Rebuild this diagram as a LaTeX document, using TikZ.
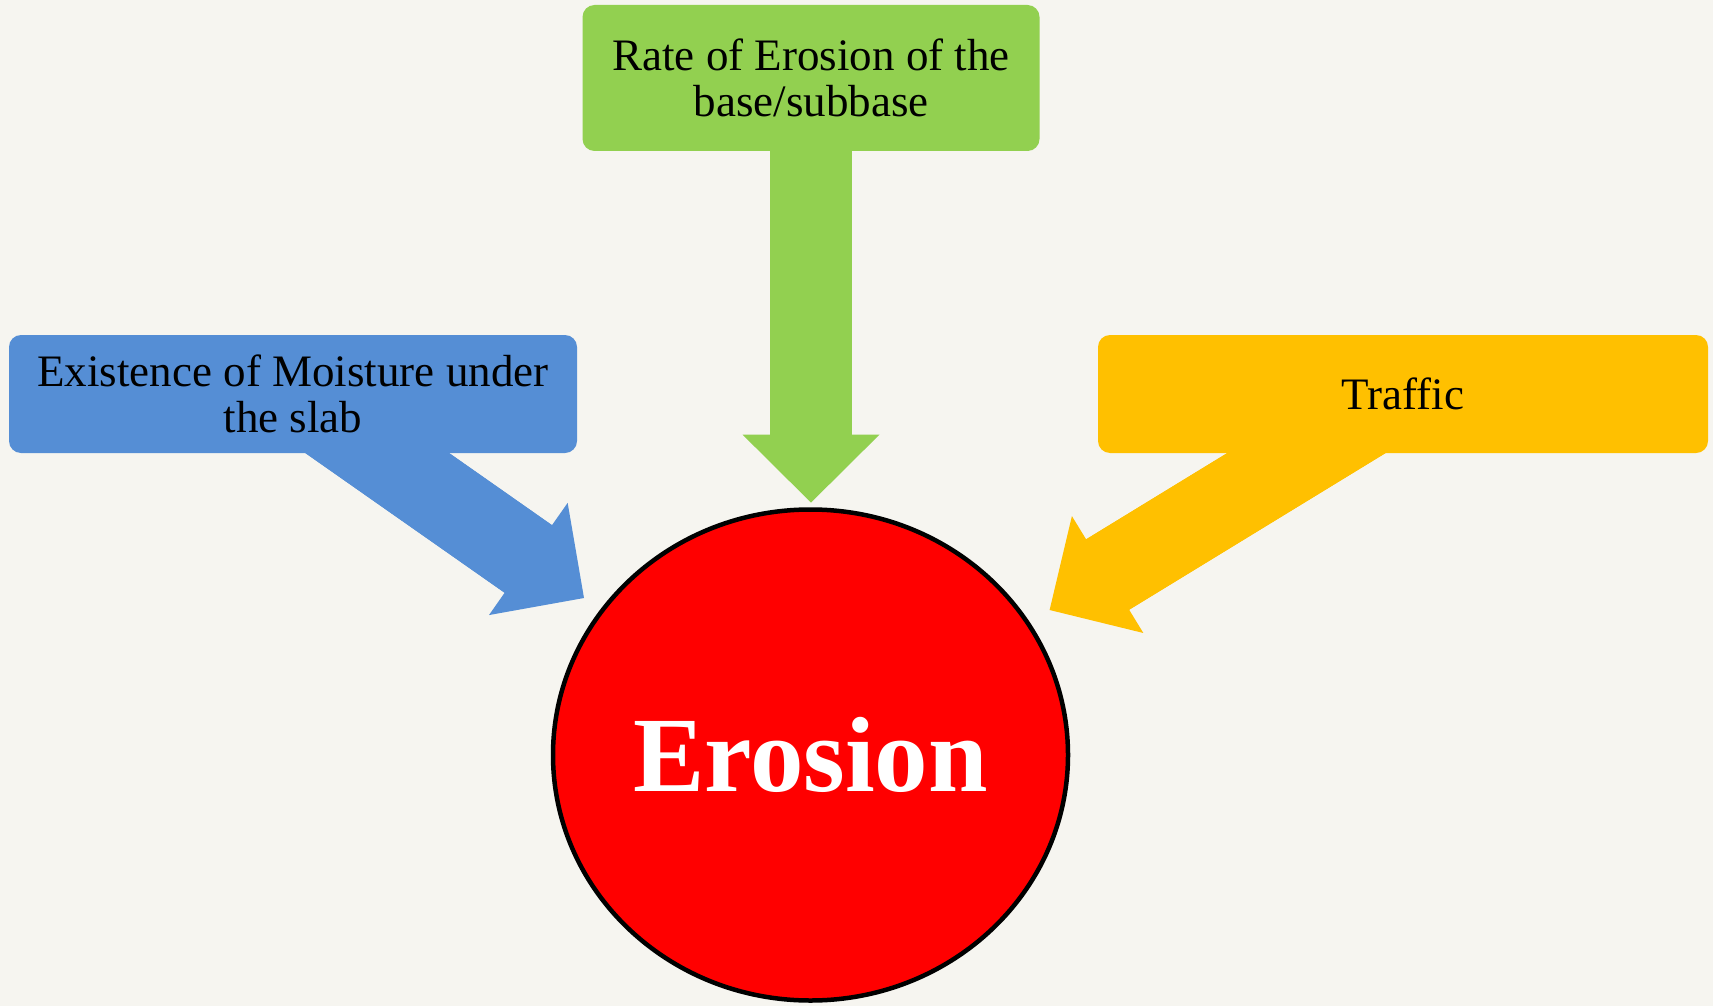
\documentclass[tikz,border=0pt]{standalone}
\usepackage{fontspec}
\setmainfont{Liberation Serif}
\usetikzlibrary{arrows.meta,shapes.geometric}
\definecolor{bgc}{HTML}{F6F5F0}
\definecolor{cblue}{HTML}{558ED5}
\definecolor{cgreen}{HTML}{92D050}
\definecolor{cyellow}{HTML}{FFC000}
\definecolor{cred}{HTML}{FF0000}
\pgfdeclarelayer{bglayer}
\pgfdeclarelayer{arrowlayer}
\pgfsetlayers{bglayer,arrowlayer,main}
\begin{document}
\begin{tikzpicture}[x=1pt,y=-1pt,
  box/.style={rounded corners=12pt, inner sep=0pt, align=center,
    font=\fontsize{45}{46.5}\selectfont, text=black},
  fatarrow/.style={line width=82.5pt,
    -{Triangle[length=68pt 0 0,width=137pt 0 0,line width=0pt]}},
  fatshaft/.style={line width=82.5pt, shorten >=52pt}]
\useasboundingbox (0,0) rectangle (1713,1006);
\begin{pgfonlayer}{bglayer}
\fill[bgc] (0,0) rectangle (1713,1006);
\end{pgfonlayer}

\node[box, fill=cgreen, minimum width=457pt, minimum height=146pt] (rate) at (811,78)
  {Rate of Erosion of the\\base/subbase};
\node[box, fill=cblue, minimum width=568pt, minimum height=118pt] (moist) at (293,394)
  {Existence of Moisture under\\the slab};
\node[box, fill=cyellow, minimum width=610pt, minimum height=118pt] (traffic) at (1403,394)
  {Traffic};
\node[ellipse, draw=black, line width=4.5pt, fill=cred, minimum width=515pt,
  minimum height=491pt, inner sep=0pt, text=white,
  font=\fontsize{107}{107}\selectfont\bfseries] (erosion) at (810.5,755) {Erosion};

\coordinate (gtip) at (811,502.6);
\coordinate (btip) at (584,598);
\coordinate (ytip) at (1049.6,610);

\begin{pgfonlayer}{arrowlayer}
\draw[fatarrow, cgreen] (rate.center) -- (gtip);
\draw[fatshaft, cgreen] (rate.center) -- (gtip);
\draw[fatarrow, cblue] (moist.center) -- (btip);
\draw[fatshaft, cblue] (moist.center) -- (btip);
\draw[fatarrow, cyellow] (traffic.center) -- (ytip);
\draw[fatshaft, cyellow] (traffic.center) -- (ytip);
\end{pgfonlayer}
\end{tikzpicture}
\end{document}
